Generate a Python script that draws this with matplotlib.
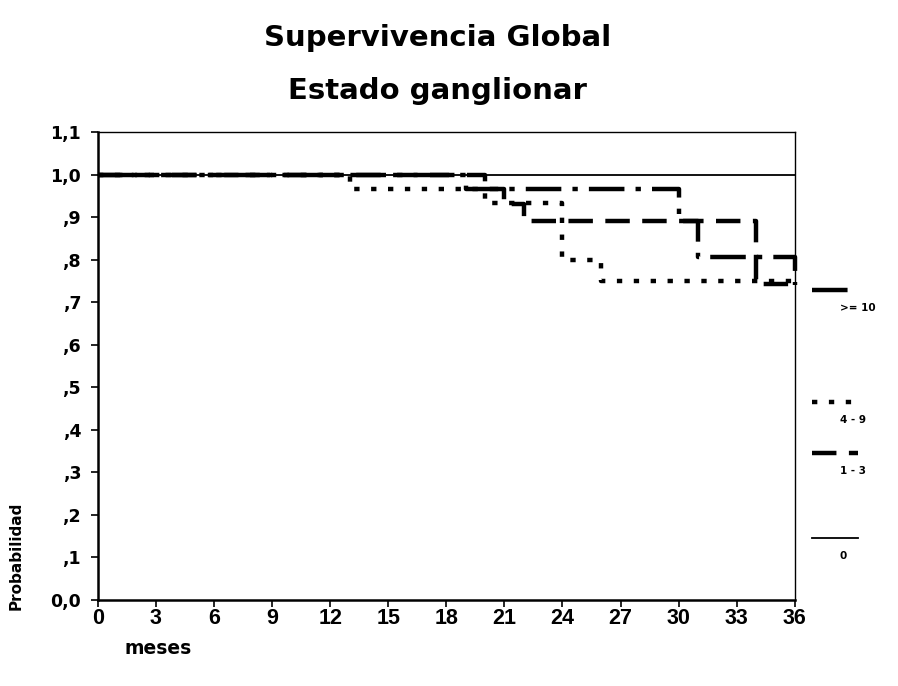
import matplotlib
matplotlib.use("Agg")
import matplotlib.pyplot as plt
from matplotlib.lines import Line2D

# Kaplan-Meier steps (months, survival)
grupos = [">= 10", "4 - 9", "1 - 3", "0"]

t_10 = [0, 19, 30, 31, 36]
s_10 = [1.0, 0.967, 0.89, 0.806, 0.74]

t_49 = [0, 13, 20, 24, 26, 36]
s_49 = [1.0, 0.967, 0.933, 0.80, 0.75, 0.75]

t_13 = [0, 20, 21, 22, 34, 36]
s_13 = [1.0, 0.965, 0.93, 0.89, 0.742, 0.742]

t_0 = [0, 36]
s_0 = [1.0, 1.0]

xticks = list(range(0, 37, 3))
yticks = [0.0, 0.1, 0.2, 0.3, 0.4, 0.5, 0.6, 0.7, 0.8, 0.9, 1.0, 1.1]
ylabels = ["0,0", ",1", ",2", ",3", ",4", ",5", ",6", ",7", ",8", ",9", "1,0", "1,1"]

plt.rcParams['font.family'] = ['Liberation Sans', 'DejaVu Sans']
plt.rcParams['font.weight'] = 'bold'

fig = plt.figure(figsize=(8.98, 6.86), dpi=100)
ax = fig.add_axes([0.109, 0.1254, 0.776, 0.6822])

estilos = {
    ">= 10": dict(lw=3.2, dashes=(8, 2.5, 1.2, 2.5)),
    "4 - 9": dict(lw=3.2, dashes=(1.2, 2.6)),
    "1 - 3": dict(lw=3.2, dashes=(5.5, 2.8)),
    "0": dict(lw=1.3, ls='-'),
}
datos = {">= 10": (t_10, s_10), "4 - 9": (t_49, s_49),
         "1 - 3": (t_13, s_13), "0": (t_0, s_0)}

for g in grupos:
    t, s = datos[g]
    ax.step(t, s, where='post', color='black', clip_on=False, **estilos[g])

ax.set_xlim(0, 36)
ax.set_ylim(0, 1.1)
ax.set_xticks(xticks)
ax.set_xticklabels([str(x) for x in xticks], fontsize=15.5, fontweight='bold',
                   family='Liberation Sans')
ax.set_yticks(yticks)
ax.set_yticklabels(ylabels, fontsize=12.5, fontweight='bold', family='DejaVu Sans')
ax.tick_params(direction='out', length=5, width=1.2, color='black')
ax.tick_params(axis='x', pad=1)
ax.tick_params(axis='y', pad=7)
ax.spines['left'].set_linewidth(1.8)
ax.spines['bottom'].set_linewidth(1.8)
ax.spines['top'].set_linewidth(1.0)
ax.spines['right'].set_linewidth(1.0)

fig.text(0.487, 0.944, "Supervivencia Global", ha='center', va='center',
         fontsize=21, fontweight='bold', family='DejaVu Sans')
fig.text(0.487, 0.868, "Estado ganglionar", ha='center', va='center',
         fontsize=21, fontweight='bold', family='DejaVu Sans')
fig.text(0.018, 0.19, "Probabilidad", rotation=90, ha='center', va='center',
         fontsize=11, fontweight='bold', family='DejaVu Sans')
fig.text(0.139, 0.055, "meses", ha='left', va='center',
         fontsize=13.5, fontweight='bold', family='DejaVu Sans')

# legend outside on the right
ley_y = {">= 10": 290, "4 - 9": 402, "1 - 3": 453, "0": 538}
for g in grupos:
    yl = 1 - ley_y[g] / 686
    fig.add_artist(Line2D([812 / 898, 858 / 898], [yl, yl], color='black',
                          transform=fig.transFigure, **estilos[g]))
    fig.text(840 / 898, yl - 18 / 686, g, ha='left', va='center',
             fontsize=7.5, fontweight='bold', family='DejaVu Sans')

fig.savefig("out.png", dpi=100)
